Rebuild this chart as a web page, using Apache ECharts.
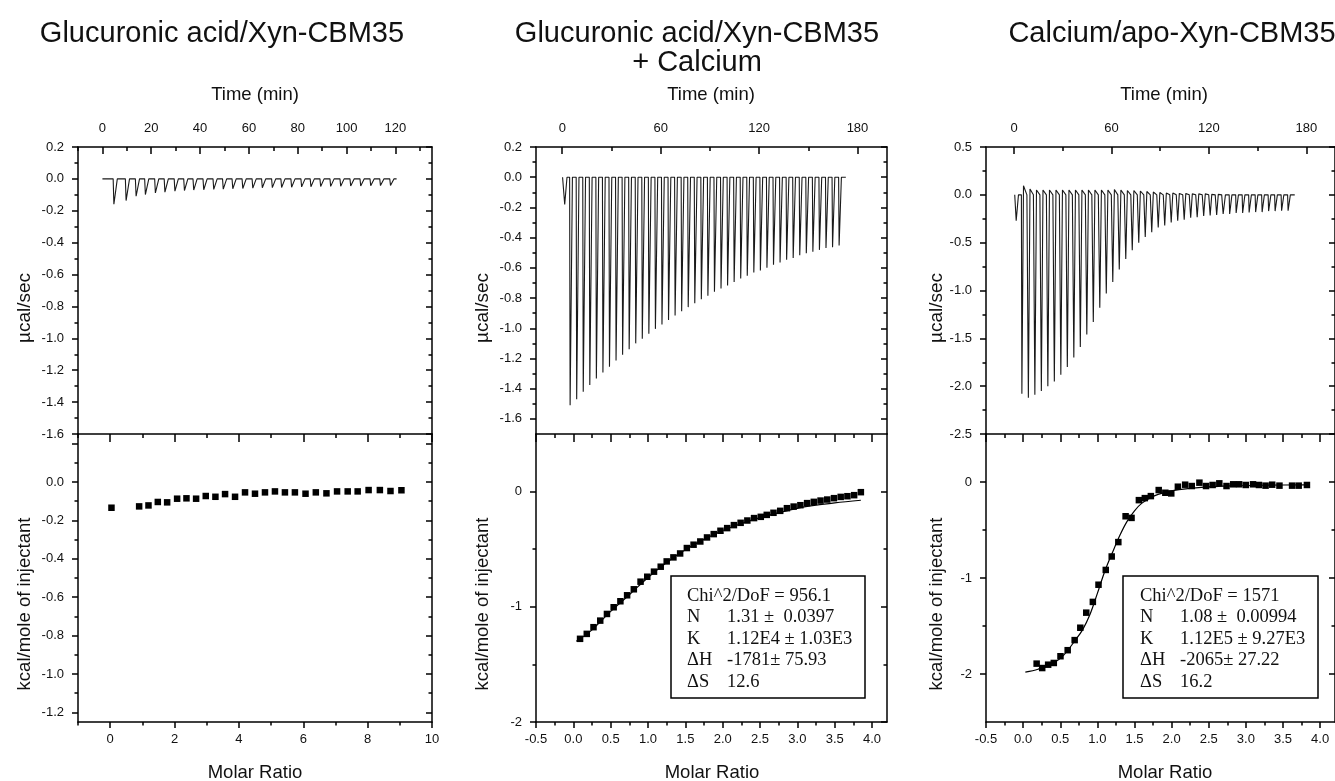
<!DOCTYPE html>
<html><head><meta charset="utf-8">
<script src="https://cdn.jsdelivr.net/npm/echarts@6/dist/echarts.min.js"></script>
<style>html,body{margin:0;padding:0;background:#fff}#c{width:1335px;height:781px}</style>
</head><body><div id="c"></div>
<script>
// ================= DATA =================
// Panel 1: Glucuronic acid / Xyn-CBM35
const p1InjTime = [1.0, 4.4, 9.4, 13.5, 17.3, 21.4, 25.3, 29.4, 33.3, 37.1, 41.2, 45.3, 49.2, 53.1, 57.2, 61.3, 65.2, 69.3, 73.1, 77.2, 81.3, 85.1, 89.1, 93.2, 97.3, 101.4, 105.5, 109.6, 113.6, 117.7];
const p1InjPeak = [-0.01, -0.159, -0.136, -0.109, -0.098, -0.088, -0.083, -0.077, -0.073, -0.07, -0.068, -0.066, -0.064, -0.062, -0.06, -0.058, -0.056, -0.055, -0.054, -0.052, -0.05, -0.049, -0.048, -0.047, -0.046, -0.045, -0.044, -0.043, -0.042, -0.041];
const p1Run = [0, 120.5];
const p1Ratio = [0.04, 0.90, 1.19, 1.48, 1.77, 2.08, 2.37, 2.67, 2.97, 3.27, 3.57, 3.88, 4.19, 4.50, 4.81, 5.12, 5.43, 5.74, 6.07, 6.39, 6.72, 7.05, 7.38, 7.69, 8.03, 8.38, 8.71, 9.05];
const p1Heat = [-0.134, -0.127, -0.122, -0.104, -0.106, -0.087, -0.085, -0.087, -0.073, -0.077, -0.063, -0.077, -0.054, -0.061, -0.054, -0.049, -0.054, -0.054, -0.061, -0.054, -0.059, -0.049, -0.049, -0.049, -0.042, -0.042, -0.047, -0.043];

// Panel 2: Glucuronic acid / Xyn-CBM35 + Calcium
const p2InjTime = [1.2, 4.5, 8.5, 12.5, 16.5, 20.5, 24.5, 28.5, 32.5, 36.5, 40.5, 44.5, 48.5, 52.5, 56.5, 60.5, 64.5, 68.5, 72.5, 76.5, 80.5, 84.5, 88.5, 92.5, 96.5, 100.5, 104.5, 108.5, 112.5, 116.5, 120.5, 124.5, 128.5, 132.5, 136.5, 140.5, 144.5, 148.5, 152.5, 156.5, 160.5, 164.5, 168.5];
const p2InjPeak = [-0.18, -1.51, -1.47, -1.42, -1.375, -1.333, -1.293, -1.254, -1.214, -1.176, -1.139, -1.10, -1.07, -1.037, -1.004, -0.975, -0.945, -0.916, -0.887, -0.86, -0.834, -0.808, -0.785, -0.759, -0.737, -0.717, -0.693, -0.671, -0.653, -0.631, -0.618, -0.60, -0.58, -0.565, -0.547, -0.534, -0.517, -0.503, -0.494, -0.481, -0.468, -0.464, -0.452];
const p2Run = [0.2, 172.9];
const p2Ratio = [0.09, 0.18, 0.27, 0.36, 0.45, 0.54, 0.63, 0.72, 0.81, 0.90, 0.99, 1.08, 1.17, 1.25, 1.34, 1.43, 1.52, 1.61, 1.70, 1.79, 1.88, 1.97, 2.06, 2.15, 2.24, 2.33, 2.42, 2.51, 2.59, 2.68, 2.77, 2.86, 2.95, 3.04, 3.13, 3.22, 3.31, 3.40, 3.49, 3.58, 3.67, 3.76, 3.85];
const p2Heat = [-1.278, -1.235, -1.177, -1.12, -1.062, -1.004, -0.952, -0.90, -0.848, -0.782, -0.739, -0.695, -0.652, -0.606, -0.571, -0.537, -0.49, -0.461, -0.433, -0.398, -0.369, -0.34, -0.317, -0.291, -0.271, -0.251, -0.23, -0.219, -0.202, -0.184, -0.167, -0.144, -0.13, -0.118, -0.1, -0.089, -0.078, -0.069, -0.057, -0.046, -0.04, -0.031, -0.005];
const p2FitRatio = [0.04, 0.25, 0.5, 0.75, 1.0, 1.25, 1.5, 1.75, 2.0, 2.25, 2.5, 2.75, 3.0, 3.25, 3.5, 3.85];
const p2FitHeat = [-1.30, -1.20, -1.04, -0.895, -0.745, -0.615, -0.505, -0.415, -0.338, -0.277, -0.226, -0.183, -0.145, -0.118, -0.098, -0.075];
const p2Fit = [["Chi^2/DoF = 956.1", ""], ["N", "1.31 \u00b1  0.0397"], ["K", "1.12E4 \u00b1 1.03E3"], ["\u0394H", "-1781\u00b1 75.93"], ["\u0394S", "12.6"]];

// Panel 3: Calcium / apo-Xyn-CBM35
const p3InjTime = [1.0, 4.5, 8.5, 12.5, 16.5, 20.5, 24.5, 28.5, 32.5, 36.5, 40.5, 44.5, 48.5, 52.5, 56.5, 60.5, 64.5, 68.5, 72.5, 76.5, 80.5, 84.5, 88.5, 92.5, 96.5, 100.5, 104.5, 108.5, 112.5, 116.5, 120.5, 124.5, 128.5, 132.5, 136.5, 140.5, 144.5, 148.5, 152.5, 156.5, 160.5, 164.5, 168.5];
const p3InjPeak = [-0.27, -2.08, -2.12, -2.09, -2.05, -2.0, -1.95, -1.88, -1.80, -1.70, -1.59, -1.46, -1.33, -1.18, -1.03, -0.91, -0.78, -0.67, -0.58, -0.50, -0.44, -0.39, -0.34, -0.32, -0.29, -0.27, -0.26, -0.24, -0.235, -0.22, -0.215, -0.21, -0.2, -0.2, -0.19, -0.19, -0.185, -0.18, -0.18, -0.17, -0.17, -0.165, -0.165];
const p3InjOver = [0, 0.095, 0.06, 0.05, 0.05, 0.05, 0.05, 0.05, 0.05, 0.05, 0.05, 0.05, 0.05, 0.05, 0.05, 0.055, 0.05, 0.045, 0.045, 0.04, 0.035, 0.03, 0.025, 0.02, 0.02, 0.015, 0.015, 0.01, 0.01, 0.01, 0.005, 0.005, 0, 0, 0, 0, 0, 0, 0, 0, 0, 0, 0];
const p3Run = [0.4, 172.9];
const p3Ratio = [0.182, 0.257, 0.337, 0.413, 0.503, 0.600, 0.694, 0.770, 0.850, 0.939, 1.015, 1.113, 1.193, 1.282, 1.380, 1.460, 1.559, 1.639, 1.720, 1.826, 1.915, 1.995, 2.084, 2.182, 2.271, 2.374, 2.463, 2.552, 2.642, 2.739, 2.829, 2.909, 2.998, 3.096, 3.176, 3.265, 3.354, 3.452, 3.622, 3.711, 3.822];
const p3Heat = [-1.892, -1.938, -1.903, -1.885, -1.815, -1.752, -1.647, -1.518, -1.361, -1.249, -1.07, -0.916, -0.776, -0.626, -0.357, -0.374, -0.189, -0.168, -0.147, -0.084, -0.112, -0.119, -0.049, -0.028, -0.042, -0.007, -0.042, -0.031, -0.014, -0.042, -0.024, -0.024, -0.031, -0.024, -0.031, -0.038, -0.028, -0.038, -0.038, -0.038, -0.031];
const p3FitRatio = [0.03, 0.2, 0.4, 0.55, 0.7, 0.8, 0.9, 1.0, 1.1, 1.2, 1.3, 1.4, 1.5, 1.6, 1.75, 1.9, 2.1, 2.4, 2.8, 3.3, 3.82];
const p3FitHeat = [-1.98, -1.95, -1.89, -1.80, -1.65, -1.54, -1.38, -1.16, -0.93, -0.74, -0.56, -0.41, -0.30, -0.22, -0.15, -0.11, -0.08, -0.055, -0.04, -0.033, -0.03];
const p3Fit = [["Chi^2/DoF = 1571", ""], ["N", "1.08 \u00b1  0.00994"], ["K", "1.12E5 \u00b1 9.27E3"], ["\u0394H", "-2065\u00b1 27.22"], ["\u0394S", "16.2"]];

// Tick values / labels
const t1Major = [0, 20, 40, 60, 80, 100, 120];
const t1Minor = [-10, 10, 30, 50, 70, 90, 110, 130];
const t23Major = [0, 60, 120, 180];
const t23Minor = [30, 90, 150];
const m1Major = [0, 2, 4, 6, 8, 10];
const m1Minor = [-1, 1, 3, 5, 7, 9];
const m23Major = [-0.5, 0.0, 0.5, 1.0, 1.5, 2.0, 2.5, 3.0, 3.5, 4.0];
const m23Minor = [-0.25, 0.25, 0.75, 1.25, 1.75, 2.25, 2.75, 3.25, 3.75];
const h1Major = [-1.6, -1.4, -1.2, -1.0, -0.8, -0.6, -0.4, -0.2, 0.0, 0.2];
const h1Minor = [-1.5, -1.3, -1.1, -0.9, -0.7, -0.5, -0.3, -0.1, 0.1];
const q1Major = [-1.2, -1.0, -0.8, -0.6, -0.4, -0.2, 0.0, 0.2];
const q1Labels = [-1.2, -1.0, -0.8, -0.6, -0.4, -0.2, 0.0];
const q1Minor = [-1.1, -0.9, -0.7, -0.5, -0.3, -0.1, 0.1];
const h2Major = [-1.6, -1.4, -1.2, -1.0, -0.8, -0.6, -0.4, -0.2, 0.0, 0.2];
const h2Minor = [-1.5, -1.3, -1.1, -0.9, -0.7, -0.5, -0.3, -0.1, 0.1];
const q23Major = [-2, -1, 0];
const q23Minor = [-1.5, -0.5];
const h3Major = [-2.5, -2.0, -1.5, -1.0, -0.5, 0.0, 0.5];
const h3Minor = [-2.25, -1.75, -1.25, -0.75, -0.25, 0.25];

// ================= BUILD =================
const FONT = '"Liberation Sans", Arial, sans-serif';
const AX = { color: '#000', width: 1.5 };
const xAxes = [], yAxes = [], grids = [], series = [];
const f1 = v => Number(v).toFixed(1);
const f0 = v => String(Math.round(v));

function axis(kind, g, pos, min, max, o) {
  const a = {
    type: 'value', gridIndex: g, position: pos, min: min, max: max,
    axisLine: { show: !!o.line, onZero: false, lineStyle: AX },
    axisTick: { show: !!o.ticks, inside: !!o.inside, length: o.len || 5, lineStyle: AX },
    axisLabel: { show: !!o.labels, margin: o.margin || 10, color: '#111', fontSize: 13, fontFamily: FONT },
    splitLine: { show: false }, minorTick: { show: false }, minorSplitLine: { show: false }
  };
  if (o.ticks) a.axisTick.customValues = o.ticks;
  if (o.labels) { a.axisLabel.customValues = o.labels; a.axisLabel.formatter = o.fmt; }
  const arr = kind === 'x' ? xAxes : yAxes;
  arr.push(a);
  return arr.length - 1;
}

function thermo(times, peaks, over, run) {
  const pts = [[run[0], 0]];
  times.forEach((t, i) => {
    const o = over ? over[i] : 0;
    pts.push([t, 0], [t + 0.3, peaks[i]]);
    if (o > 0) pts.push([t + 1.3, o], [t + 3.4, 0]);
    else pts.push([t + 1.7, 0]);
  });
  pts.push([run[1], 0]);
  return pts;
}
const zip = (a, b) => a.map((v, i) => [v, b[i]]);

function panel(c) {
  const gT = grids.length;
  grids.push({ left: c.left, top: 147, width: c.width, height: 287 });
  const gB = grids.length;
  grids.push({ left: c.left, top: 434, width: c.width, height: 288 });
  const xt = axis('x', gT, 'top', c.tRange[0], c.tRange[1], { line: 1, ticks: c.tMajor, inside: 1, len: 7, labels: c.tMajor, margin: 12, fmt: f0 });
  axis('x', gT, 'top', c.tRange[0], c.tRange[1], { ticks: c.tMinor, inside: 1, len: 4 });
  const yt = axis('y', gT, 'left', c.hRange[0], c.hRange[1], { line: 1, ticks: c.hMajor, len: 6, labels: c.hMajor, margin: 14, fmt: f1 });
  axis('y', gT, 'left', c.hRange[0], c.hRange[1], { ticks: c.hMinor, len: 3.5 });
  axis('y', gT, 'right', c.hRange[0], c.hRange[1], { line: 1, ticks: c.hMajor, inside: 1, len: 6 });
  axis('y', gT, 'right', c.hRange[0], c.hRange[1], { ticks: c.hMinor, inside: 1, len: 3.5 });
  const xb = axis('x', gB, 'bottom', c.mRange[0], c.mRange[1], { line: 1, ticks: c.mMajor, len: 6, labels: c.mMajor, margin: 11, fmt: c.mFmt });
  axis('x', gB, 'bottom', c.mRange[0], c.mRange[1], { ticks: c.mMinor, len: 3.5 });
  axis('x', gB, 'top', c.mRange[0], c.mRange[1], { line: 1, ticks: c.mMajor, inside: 1, len: 8 });
  axis('x', gB, 'top', c.mRange[0], c.mRange[1], { ticks: c.mMinor, inside: 1, len: 4 });
  const yb = axis('y', gB, 'left', c.qRange[0], c.qRange[1], { line: 1, ticks: c.qMajor, len: 6, labels: c.qLabels, margin: 14, fmt: c.qFmt });
  axis('y', gB, 'left', c.qRange[0], c.qRange[1], { ticks: c.qMinor, len: 3.5 });
  axis('y', gB, 'right', c.qRange[0], c.qRange[1], { line: 1, ticks: c.qMajor, inside: 1, len: 6 });
  axis('y', gB, 'right', c.qRange[0], c.qRange[1], { ticks: c.qMinor, inside: 1, len: 3.5 });

  series.push({ type: 'line', xAxisIndex: xt, yAxisIndex: yt, data: thermo(c.injT, c.injP, c.injO, c.run),
    showSymbol: false, symbol: 'none', lineStyle: { color: '#1a1a1a', width: 1.1 }, silent: true });
  if (c.fitX) series.push({ type: 'line', xAxisIndex: xb, yAxisIndex: yb, data: zip(c.fitX, c.fitY),
    smooth: 0.35, showSymbol: false, symbol: 'none', lineStyle: { color: '#000', width: 1.2 }, z: 2 });
  series.push({ type: 'scatter', xAxisIndex: xb, yAxisIndex: yb, data: zip(c.ratio, c.heat),
    symbol: 'rect', symbolSize: 6.5, itemStyle: { color: '#000', opacity: 1 }, z: 3 });
}

panel({ left: 78, width: 354, tRange: [-10, 135], tMajor: t1Major, tMinor: t1Minor,
  hRange: [-1.6, 0.2], hMajor: h1Major, hMinor: h1Minor,
  mRange: [-1, 10], mMajor: m1Major, mMinor: m1Minor, mFmt: f0,
  qRange: [-1.25, 0.25], qMajor: q1Major, qLabels: q1Labels, qMinor: q1Minor, qFmt: f1,
  injT: p1InjTime, injP: p1InjPeak, injO: null, run: p1Run, ratio: p1Ratio, heat: p1Heat });
panel({ left: 536, width: 351, tRange: [-16, 198], tMajor: t23Major, tMinor: t23Minor,
  hRange: [-1.7, 0.2], hMajor: h2Major, hMinor: h2Minor,
  mRange: [-0.5, 4.2], mMajor: m23Major, mMinor: m23Minor, mFmt: f1,
  qRange: [-2, 0.5], qMajor: q23Major, qLabels: q23Major, qMinor: q23Minor, qFmt: f0,
  injT: p2InjTime, injP: p2InjPeak, injO: null, run: p2Run, ratio: p2Ratio, heat: p2Heat,
  fitX: p2FitRatio, fitY: p2FitHeat });
panel({ left: 986, width: 352, tRange: [-17.3, 197.7], tMajor: t23Major, tMinor: t23Minor,
  hRange: [-2.5, 0.5], hMajor: h3Major, hMinor: h3Minor,
  mRange: [-0.5, 4.2], mMajor: m23Major, mMinor: m23Minor, mFmt: f1,
  qRange: [-2.5, 0.5], qMajor: q23Major, qLabels: q23Major, qMinor: q23Minor, qFmt: f0,
  injT: p3InjTime, injP: p3InjPeak, injO: p3InjOver, run: p3Run, ratio: p3Ratio, heat: p3Heat,
  fitX: p3FitRatio, fitY: p3FitHeat });

// ================= TEXT =================
const g = [];
function txt(text, x, y, size, opt) {
  opt = opt || {};
  g.push({ type: 'text', x: x, y: y, rotation: opt.rot || 0, silent: true, z: 101,
    style: { text: text, font: size + 'px ' + (opt.family || FONT), fill: '#111',
      textAlign: opt.align || 'center', textVerticalAlign: 'middle', align: opt.align || 'center', verticalAlign: 'middle' } });
}
txt('Glucuronic acid/Xyn-CBM35', 222, 34, 29);
txt('Glucuronic acid/Xyn-CBM35', 697, 34, 29);
txt('+ Calcium', 697, 63, 29);
txt('Calcium/apo-Xyn-CBM35', 1172, 34, 29);
[255, 711, 1164].forEach(x => txt('Time (min)', x, 95, 18.5));
[255, 712, 1165].forEach(x => txt('Molar Ratio', x, 773, 18.5));
[25, 483, 937].forEach(x => {
  txt('\u00b5cal/sec', x, 308, 19, { rot: Math.PI / 2 });
  txt('kcal/mole of injectant', x, 604, 18.5, { rot: Math.PI / 2 });
});
function fitBox(x, y, w, h, lines, lx, vx) {
  g.push({ type: 'rect', silent: true, z: 100, shape: { x: x, y: y, width: w, height: h },
    style: { fill: '#fff', stroke: '#000', lineWidth: 1.5 } });
  lines.forEach((ln, i) => {
    const yy = 596 + i * 21.5;
    txt(ln[0], lx, yy, 18.5, { align: 'left', family: '"Liberation Serif", "Times New Roman", serif' });
    if (ln[1]) txt(ln[1], vx, yy, 18.5, { align: 'left', family: '"Liberation Serif", "Times New Roman", serif' });
  });
}
fitBox(671, 576, 194, 122, p2Fit, 687, 727);
fitBox(1123, 576, 195, 122, p3Fit, 1140, 1180);

const chart = echarts.init(document.getElementById('c'), null, { renderer: 'canvas' });
chart.setOption({
  animation: false,
  backgroundColor: '#fff',
  grid: grids, xAxis: xAxes, yAxis: yAxes, series: series,
  graphic: { elements: g }
});
</script></body></html>
